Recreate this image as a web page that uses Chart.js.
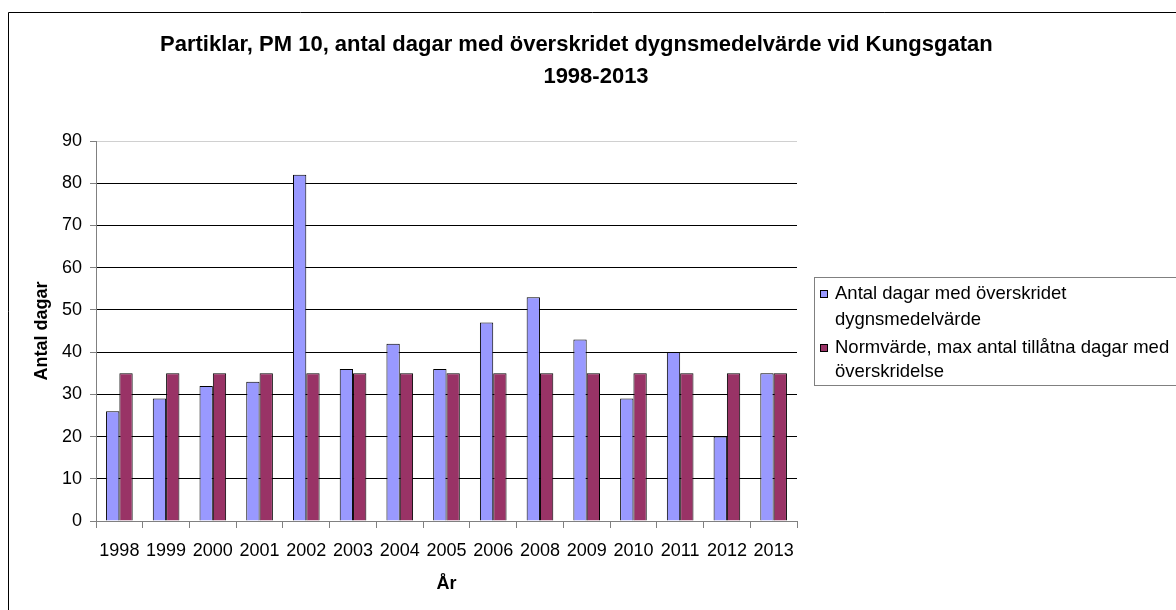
<!DOCTYPE html>
<html><head><meta charset="utf-8">
<script src="https://cdn.jsdelivr.net/npm/chart.js@4"></script>
<style>html,body{margin:0;padding:0;background:#fff;}#wrap{width:1176px;height:610px;position:relative;}</style>
</head><body><div id="wrap"><canvas id="c" width="1176" height="610"></canvas></div>
<script>
const categories = ['1998','1999','2000','2001','2002','2003','2004','2005','2006','2008','2009','2010','2011','2012','2013'];
const antalDagar = [26,29,32,33,82,36,42,36,47,53,43,29,40,20,35];
const normvarde = [35,35,35,35,35,35,35,35,35,35,35,35,35,35,35];
const yTicks = [0,10,20,30,40,50,60,70,80,90];
const seriesNames = ['Antal dagar med överskridet dygnsmedelvärde','Normvärde, max antal tillåtna dagar med överskridelse'];
const titleLines = ['Partiklar, PM 10, antal dagar med överskridet dygnsmedelvärde vid Kungsgatan','1998-2013'];
const xTitle = 'År';
const yTitle = 'Antal dagar';
const colors = ['#9999FF','#993366'];
const FONT = '"Liberation Sans", Arial, sans-serif';

const deco = {
  id:'deco',
  beforeDraw(chart){
    const ctx = chart.ctx;
    ctx.save();
    ctx.fillStyle='#fff';ctx.fillRect(0,0,chart.width,chart.height);
    ctx.restore();
  },
  afterDraw(chart){
    const ctx = chart.ctx, ca = chart.chartArea;
    ctx.save();
    // outer border
    ctx.strokeStyle='#000';ctx.lineWidth=1;
    ctx.beginPath();ctx.moveTo(8.5,700);ctx.lineTo(8.5,12.5);ctx.lineTo(1200,12.5);ctx.stroke();
    // title
    ctx.fillStyle='#000';ctx.textBaseline='middle';
    ctx.font='bold 22px '+FONT;
    ctx.textAlign='left';
    ctx.fillText(titleLines[0],160,45);
    ctx.textAlign='center';
    ctx.fillText(titleLines[1],596,77);
    // axis titles
    ctx.font='bold 18px '+FONT;
    ctx.fillText(xTitle,(ca.left+ca.right)/2,584);
    ctx.save();ctx.translate(42,(ca.top+ca.bottom)/2);ctx.rotate(-Math.PI/2);
    ctx.fillText(yTitle,0,0);ctx.restore();
    // legend box
    ctx.strokeStyle='#808080';
    ctx.strokeRect(814.5,277.5,400,108);
    ctx.font='18.5px '+FONT;ctx.textAlign='left';ctx.fillStyle='#000';
    const lines=[[0,'Antal dagar med överskridet',294],[null,'dygnsmedelvärde',320],[1,'Normvärde, max antal tillåtna dagar med',348],[null,'överskridelse',372]];
    for(const [si,t,y] of lines){
      if(si!==null){
        ctx.fillStyle=colors[si];ctx.fillRect(820,y-4,8,8);
        ctx.strokeStyle='#000';ctx.strokeRect(820.5,y-3.5,7,7);
      }
      ctx.fillStyle='#000';ctx.fillText(t,835,y);
    }
    ctx.restore();
  }
};

new Chart(document.getElementById('c'),{
  type:'bar',
  data:{labels:categories,datasets:[
    {label:seriesNames[0],data:antalDagar,backgroundColor:colors[0],borderColor:'#000',borderWidth:1,barPercentage:1,categoryPercentage:0.57},
    {label:seriesNames[1],data:normvarde,backgroundColor:colors[1],borderColor:'#000',borderWidth:1,barPercentage:1,categoryPercentage:0.57}
  ]},
  options:{
    responsive:false,animation:false,
    layout:{padding:{left:0,right:379,top:141,bottom:0}},
    plugins:{legend:{display:false},title:{display:false},tooltip:{enabled:false}},
    scales:{
      x:{
        grid:{drawOnChartArea:false,drawTicks:true,tickLength:7,color:'#808080',offset:true},
        border:{color:'#808080'},
        ticks:{color:'#000',font:{family:FONT,size:18},padding:12,maxRotation:0,autoSkip:false},
        afterFit(s){s.height=89;}
      },
      y:{
        min:0,max:90,
        afterBuildTicks(s){s.ticks=yTicks.map(v=>({value:v}));},
        grid:{color:(c)=>c.tick&&c.tick.value===90?'#d0d0d0':'#000',tickColor:'#808080',tickLength:6,drawTicks:true},
        border:{color:'#808080'},
        ticks:{color:'#000',font:{family:FONT,size:18},padding:8},
        afterFit(s){s.width=96;}
      }
    }
  },
  plugins:[deco]
});
</script></body></html>
